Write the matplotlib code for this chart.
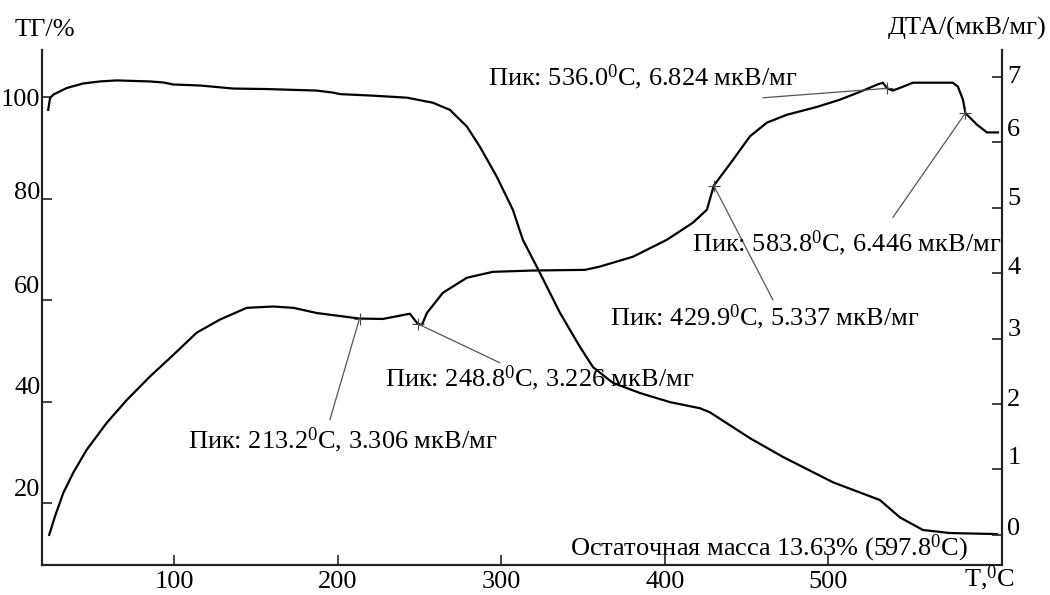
import matplotlib
matplotlib.use('Agg')
import matplotlib.pyplot as plt
import matplotlib.transforms as mtransforms

plt.rcParams['font.family'] = ['Liberation Serif', 'DejaVu Serif']
plt.rcParams['mathtext.fontset'] = 'custom'
plt.rcParams['mathtext.rm'] = 'Liberation Serif'
plt.rcParams['mathtext.it'] = 'Liberation Serif:italic'

# TG curve, %
tg_temp = [22.8, 23.9, 25.9, 34.1, 44.2, 54.4, 64.6, 85.0, 93.1, 99.3, 115.6,
           125.8, 136.0, 156.4, 187.0, 197.0, 201.2, 221.4, 242.2, 258.1, 268.5,
           278.9, 286.9, 297.2, 307.0, 313.1, 323.5, 335.8, 348.0, 356.0, 368.2,
           384.7, 403.1, 421.4, 427.5, 452.0, 472.2, 502.8, 531.5, 543.7, 557.8,
           574.3, 603.1]
tg_mass = [97.5, 99.8, 100.5, 101.8, 102.7, 103.1, 103.3, 103.1, 102.9, 102.5, 102.3,
           102.0, 101.7, 101.6, 101.3, 100.9, 100.6, 100.3, 99.9, 98.9, 97.5,
           94.2, 90.2, 84.3, 77.8, 71.9, 65.4, 57.5, 50.8, 46.8, 43.7,
           41.7, 39.9, 38.7, 37.9, 32.8, 29.1, 24.1, 20.6, 17.2, 14.7,
           14.1, 13.9]

# DTA curve, мкВ/мг
dta_temp = [23.4, 26.9, 32.0, 38.1, 46.3, 58.5, 70.8, 85.0, 99.3, 113.6, 127.8,
            144.2, 160.4, 172.7, 187.2, 213.2, 227.5, 244.0, 248.8, 251.4, 254.4,
            264.2, 278.9, 294.8, 319.3, 351.1, 360.2, 380.4, 401.2, 417.1, 425.7,
            429.9, 441.6, 452.0, 462.4, 474.6, 493.0, 507.0, 519.3, 529.7, 533.3,
            536.0, 539.4, 543.7, 551.7, 563.9, 576.1, 579.2, 582.3, 583.8, 590.8,
            597.0, 603.7]
dta_val = [0.0, 0.28, 0.64, 0.95, 1.30, 1.71, 2.06, 2.42, 2.75, 3.09, 3.29,
           3.47, 3.49, 3.47, 3.39, 3.306, 3.30, 3.38, 3.226, 3.21, 3.39,
           3.70, 3.93, 4.02, 4.04, 4.05, 4.10, 4.25, 4.51, 4.77, 4.97,
           5.337, 5.73, 6.09, 6.30, 6.42, 6.54, 6.65, 6.77, 6.88, 6.91,
           6.824, 6.79, 6.83, 6.91, 6.91, 6.91, 6.85, 6.65, 6.446, 6.27,
           6.15, 6.15]

peak_temp = [213.2, 248.8, 429.9, 536.0, 583.8]
peak_val = [3.306, 3.226, 5.337, 6.824, 6.446]

fig = plt.figure(figsize=(10.5, 5.95), dpi=100)
ax = fig.add_axes([0.04, 0.0504, 0.914, 0.8656])
ax2 = ax.twinx()

ink = '#222222'
ax.plot(tg_temp, tg_mass, color='black', lw=1.6)
ax2.plot(dta_temp, dta_val, color='black', lw=1.6)
ax2.plot(peak_temp, peak_val, ls='none', marker='+', ms=8, mew=0.8, color='#444444')

ax.set_xlim(19, 606)
ax.set_ylim(7.8, 109.3)
ax2.set_ylim(-0.46, 7.41)

for a in (ax, ax2):
    a.spines['top'].set_visible(False)
    for s in ('left', 'right', 'bottom'):
        a.spines[s].set_linewidth(1.5)
        a.spines[s].set_color(ink)

fs = 19
ax.set_xticks([100, 200, 300, 400, 500])
ax.set_yticks([20, 40, 60, 80, 100])
ax2.set_yticks([0, 1, 2, 3, 4, 5, 6, 7])
ax.tick_params(axis='x', direction='in', length=7, width=1.2, color=ink, labelsize=fs, pad=4)
ax.tick_params(axis='y', direction='in', length=7, width=1.2, color=ink, labelsize=fs, pad=1)
ax2.tick_params(axis='y', direction='in', length=7, width=1.2, color=ink, labelsize=fs, pad=4)

# tick labels sit a little above their ticks in the original
for lbl, dy in zip(ax.get_yticklabels(), [16, 16, 16, 8, 0]):
    lbl.set_transform(lbl.get_transform() + mtransforms.ScaledTranslation(0, dy / 100, fig.dpi_scale_trans))
for lbl, dy in zip(ax2.get_yticklabels(), [8, 14, 7, 11, 8, 11, 15, 2]):
    lbl.set_transform(lbl.get_transform() + mtransforms.ScaledTranslation(0, dy / 100, fig.dpi_scale_trans))

fig.text(45 / 1050, 1 - 30 / 595, 'ТГ/%', fontsize=fs, ha='center', va='center')
fig.text(1046 / 1050, 1 - 28 / 595, 'ДТА/(мкВ/мг)', fontsize=fs, ha='right', va='center')
fig.text(989 / 1050, 1 - 578 / 595, 'T,$^0$C', fontsize=fs, ha='center', va='center')

lead = dict(arrowstyle='-', color='#555555', lw=0.9, shrinkA=0, shrinkB=0)
ax2.annotate('', xy=(213.2, 3.306), xytext=(195.1, 1.76), arrowprops=lead)
ax2.annotate('', xy=(248.8, 3.226), xytext=(299.1, 2.63), arrowprops=lead)
ax2.annotate('', xy=(429.9, 5.337), xytext=(466.1, 3.59), arrowprops=lead)
ax2.annotate('', xy=(536.0, 6.824), xytext=(460.0, 6.68), arrowprops=lead)
ax2.annotate('', xy=(583.8, 6.446), xytext=(539.4, 4.85), arrowprops=lead)

ax2.text(108.3, 1.45, 'Пик: 213.2$^0$C, 3.306 мкВ/мг', fontsize=fs, va='center')
ax2.text(228.7, 2.40, 'Пик: 248.8$^0$C, 3.226 мкВ/мг', fontsize=fs, va='center')
ax2.text(366.4, 3.32, 'Пик: 429.9$^0$C, 5.337 мкВ/мг', fontsize=fs, va='center')
ax2.text(291.7, 6.99, 'Пик: 536.0$^0$C, 6.824 мкВ/мг', fontsize=fs, va='center')
ax2.text(416.5, 4.46, 'Пик: 583.8$^0$C, 6.446 мкВ/мг', fontsize=fs, va='center')
ax2.text(341.9, -0.20, 'Остаточная масса 13.63% (597.8$^0$C)', fontsize=fs, va='center')

fig.savefig('out.png', dpi=100)
